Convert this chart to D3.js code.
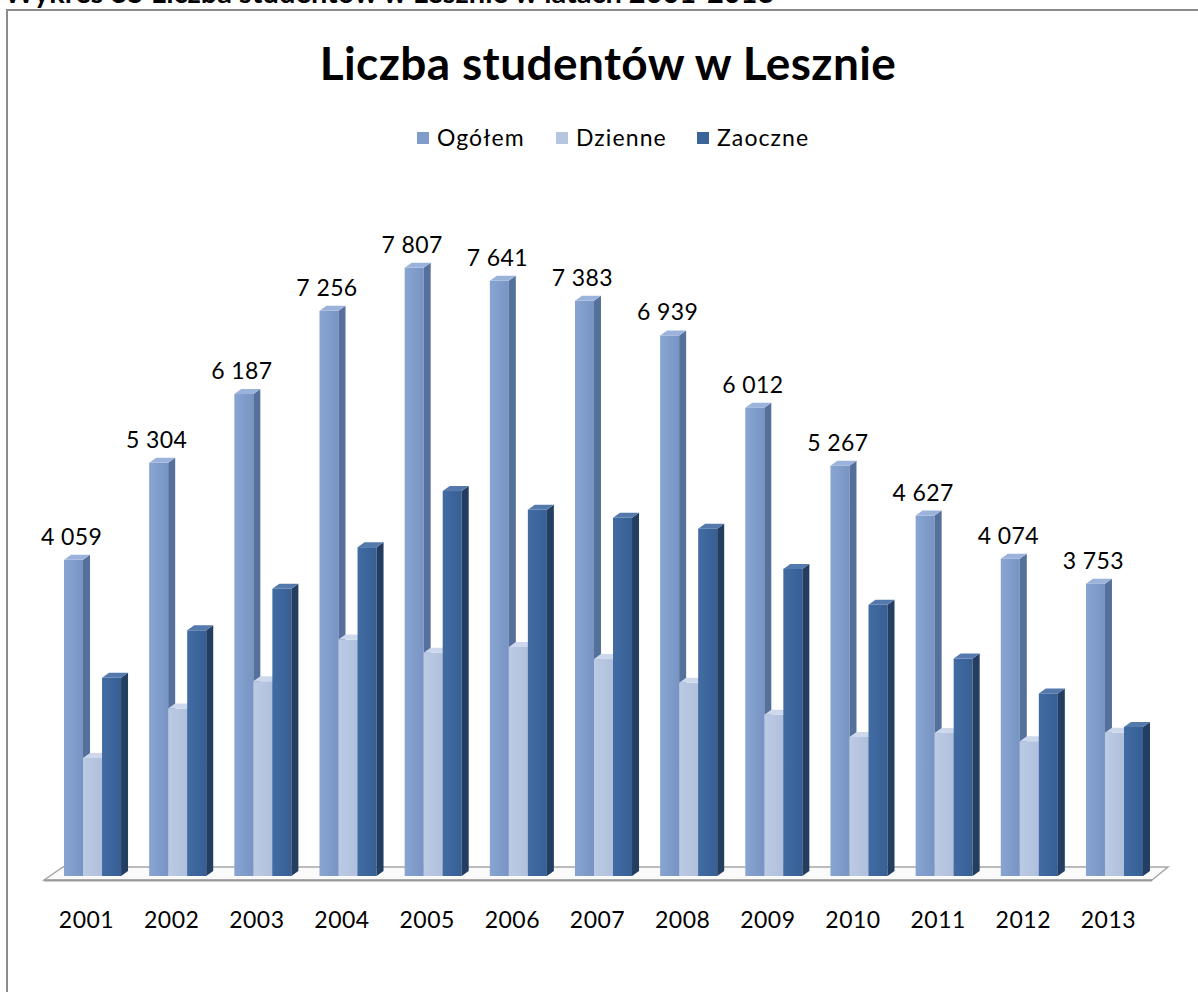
<!DOCTYPE html>
<html><head><meta charset="utf-8">
<script src="https://cdn.jsdelivr.net/npm/d3@7"></script>
<style>
html,body{margin:0;padding:0;background:#fff;}
svg{display:block;}
text{font-family:Lato, "Open Sans", sans-serif;fill:#000;}
</style></head>
<body>
<script>
const years = ['2001','2002','2003','2004','2005','2006','2007','2008','2009','2010','2011','2012','2013'];
const seriesNames = ['Ogółem','Dzienne','Zaoczne'];
const ogolem  = [4059,5304,6187,7256,7807,7641,7383,6939,6012,5267,4627,4074,3753];
const dzienne = [1515,2150,2500,3035,2865,2940,2785,2480,2070,1785,1835,1730,1840];
const zaoczne = [2544,3154,3687,4221,4942,4701,4598,4459,3942,3482,2792,2344,1913];
const title = 'Liczba studentów w Lesznie';
const caption = 'Wykres 35 Liczba studentów w Lesznie w latach 2001-2013';

const W = 1198, H = 992;
const colors = {
  'Ogółem':  {front:['#88a5d2','#7894c4'], side:'#56709c', top:'#9bb3da', legend:'#7f9ccb'},
  'Dzienne': {front:['#bccbe4','#b0c0dc'], side:'#8a9cbc', top:'#cdd8ec', legend:'#b6c5e0'},
  'Zaoczne': {front:['#416ca3','#375f94'], side:'#243e62', top:'#5479ad', legend:'#3b6499'}
};
const values = {'Ogółem':ogolem,'Dzienne':dzienne,'Zaoczne':zaoczne};

const svg = d3.select('body').append('svg').attr('width',W).attr('height',H);
const defs = svg.append('defs');
seriesNames.forEach((s,i)=>{
  const g = defs.append('linearGradient').attr('id','g'+i).attr('x1','0').attr('x2','1').attr('y1','0').attr('y2','0');
  g.append('stop').attr('offset','0').attr('stop-color',colors[s].front[0]);
  g.append('stop').attr('offset','1').attr('stop-color',colors[s].front[1]);
});

// caption (cut off at top, as in the reference)
svg.append('text').attr('x',4).attr('y',3).attr('font-weight','bold').attr('font-size',29).text(caption);

// frame
svg.append('path').attr('d','M7,992 V10 H1198').attr('fill','none').attr('stroke','#8c8c8c').attr('stroke-width',2);

// title
svg.append('text').attr('x',608).attr('y',80).attr('text-anchor','middle')
  .attr('font-weight','bold').attr('font-size',46).attr('letter-spacing',0.4).text(title);

// legend
const legendX = [417,556,697];
const lg = svg.append('g');
seriesNames.forEach((s,i)=>{
  lg.append('rect').attr('x',legendX[i]).attr('y',132).attr('width',12).attr('height',12).attr('fill',colors[s].legend);
  lg.append('text').attr('x',legendX[i]+20).attr('y',146).attr('font-size',23).attr('letter-spacing',1.1).text(s);
});

// scales
const x0 = d3.scaleBand().domain(years).range([64,1143]).paddingInner(0.33).paddingOuter(0);
const x1 = d3.scaleBand().domain(seriesNames).range([0,x0.bandwidth()]);
const y = d3.scaleLinear().domain([0,8000]).range([876, 876-8000*0.0779]);
const dx = 7, dy = -5;

// floor
const fl = x0.range()[0], fr = x0.range()[1];
const base = y(0);
svg.append('path')
  .attr('d',`M${fl-20},${base+4} L${fl-1},${base-9} L${fr+25},${base-9} L${fr+9},${base+4} Z`)
  .attr('fill','#fafafa').attr('stroke','#a6a6a6').attr('stroke-width',1.5);
svg.append('line').attr('x1',fl-20).attr('x2',fr+9).attr('y1',base+4.5).attr('y2',base+4.5)
  .attr('stroke','#9a9a9a').attr('stroke-width',2);

// bars
const bars = svg.append('g');
years.forEach((yr,j)=>{
  seriesNames.forEach((s,i)=>{
    const v = values[s][j];
    const x = x0(yr)+x1(s), w = x1.bandwidth();
    const top = y(v), b = y(0);
    const g = bars.append('g');
    g.append('rect').attr('x',x).attr('y',top).attr('width',w).attr('height',b-top).attr('fill',`url(#g${i})`);
    g.append('path').attr('d',`M${x+w},${top} L${x+w+dx},${top+dy} L${x+w+dx},${b+dy} L${x+w},${b} Z`).attr('fill',colors[s].side);
    g.append('path').attr('d',`M${x},${top} L${x+dx},${top+dy} L${x+w+dx},${top+dy} L${x+w},${top} Z`).attr('fill',colors[s].top);
  });
});

// data labels for Ogółem
years.forEach((yr,j)=>{
  const v = ogolem[j];
  const cx = x0(yr)+x1('Ogółem')+x1.bandwidth()/2;
  svg.append('text').attr('x',cx-2).attr('y',y(v)-15).attr('text-anchor','middle').attr('font-size',23)
    .attr('letter-spacing',0.4)
    .text(d3.format(',')(v).replace(',',' '));
});

// category axis labels
years.forEach(yr=>{
  svg.append('text').attr('x',x0(yr)+x0.bandwidth()/2-6).attr('y',928).attr('text-anchor','middle')
    .attr('font-size',23).attr('letter-spacing',0.5).text(yr);
});
</script>
</body></html>
